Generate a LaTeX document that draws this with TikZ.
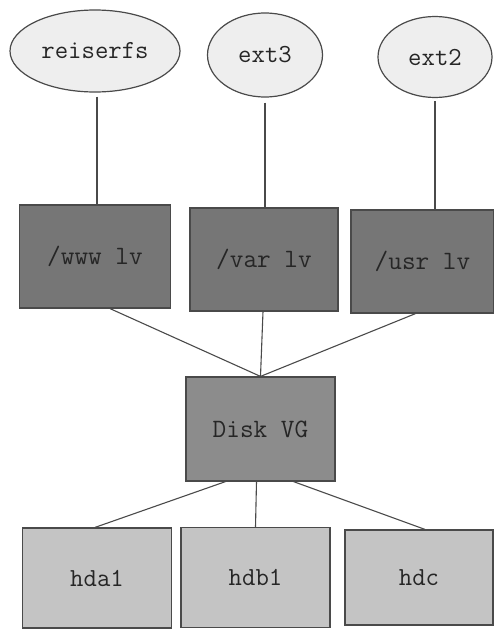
\documentclass[tikz,border=0pt]{standalone}
\usepackage{fontspec}
\setmonofont{Latin Modern Mono}
\usetikzlibrary{shapes.geometric}
\definecolor{efill}{HTML}{EEEEEE}
\definecolor{lvfill}{HTML}{767676}
\definecolor{vgfill}{HTML}{8C8C8C}
\definecolor{hdfill}{HTML}{C4C4C4}
\definecolor{edge}{HTML}{4A4A4A}
\definecolor{txt}{HTML}{262626}
\begin{document}
\begin{tikzpicture}[x=1pt,y=-1pt,
  fs/.style={ellipse,draw=edge,line width=1.2pt,fill=efill,inner sep=0pt,text=txt,font=\ttfamily\fontsize{26}{28}\selectfont},
  lvbox/.style={rectangle,draw=edge,line width=1.2pt,fill=lvfill,inner sep=0pt,minimum width=148pt,minimum height=103pt,text=txt,font=\ttfamily\fontsize{26.5}{28}\selectfont},
  vgbox/.style={rectangle,draw=edge,line width=1.2pt,fill=vgfill,inner sep=0pt,minimum width=149pt,minimum height=104pt,text=txt,font=\ttfamily\fontsize{26.5}{28}\selectfont},
  hdbox/.style={rectangle,draw=edge,line width=1.2pt,fill=hdfill,inner sep=0pt,minimum width=149pt,minimum height=100pt,text=txt,font=\ttfamily\fontsize{26}{28}\selectfont},
  link/.style={draw=edge,line width=1.1pt}]
\useasboundingbox (0,0) rectangle (494,629);
\node[fs,minimum width=170pt,minimum height=82pt] (reiserfs) at (95,51) {reiserfs};
\node[fs,minimum width=115pt,minimum height=84pt] (ext3) at (265,55) {ext3};
\node[fs,minimum width=114pt,minimum height=81pt] (ext2) at (435,57) {ext2};
\node[lvbox,minimum width=151pt] (www) at (95,256.5) {/www lv};
\node[lvbox] (var) at (264,259.5) {/var lv};
\node[lvbox,minimum width=143pt] (usr) at (422.5,261.5) {/usr lv};
\node[vgbox] (vg) at (260.5,429) {Disk VG};
\node[hdbox] (hda) at (97,578) {hda1};
\node[hdbox] (hdb) at (255.5,577.5) {hdb1};
\node[hdbox,minimum height=95pt,minimum width=148pt] (hdc) at (419,577.5) {hdc};
\draw[link] ([xshift=2pt,yshift=-4pt]reiserfs.south) -- ([xshift=2pt]www.north);
\draw[link] ([yshift=-5pt]ext3.south) -- ([xshift=1pt]var.north);
\draw[link] ([yshift=-3pt]ext2.south) -- ([xshift=12.5pt]usr.north);
\draw[link] ([xshift=15pt]www.south) -- (vg.north);
\draw[link] ([xshift=-1pt]var.south) -- (vg.north);
\draw[link] ([xshift=-7pt]usr.south) -- (vg.north);
\draw[link] ([xshift=-35pt]vg.south) -- ([xshift=-2pt]hda.north);
\draw[link] ([xshift=-4pt]vg.south) -- (hdb.north);
\draw[link] ([xshift=33pt]vg.south) -- ([xshift=6pt]hdc.north);
\end{tikzpicture}
\end{document}
